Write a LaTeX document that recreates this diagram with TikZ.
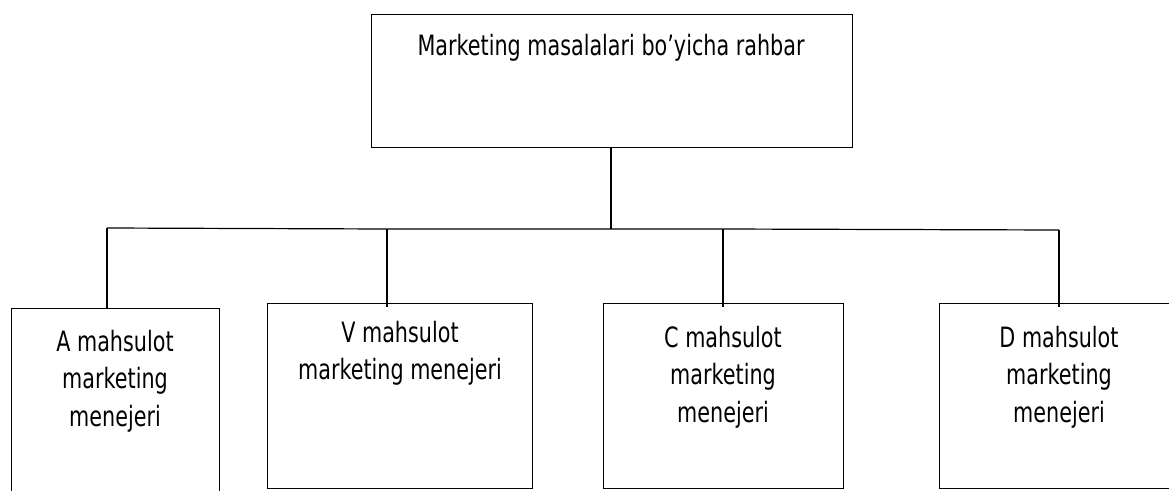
\documentclass[tikz,border=0pt]{standalone}
\usepackage{fontspec}
\setmainfont{DejaVu Sans}[FakeStretch=0.74]
\begin{document}
\begin{tikzpicture}[x=1pt,y=-1pt,
  box/.style={draw=black,line width=1.3pt,rectangle,inner sep=0pt,anchor=north west},
  lbl/.style={inner sep=0pt,anchor=north,align=center,font=\fontsize{28}{37.5}\selectfont},
  wire/.style={draw=black,line width=1.2pt}]
\clip (0,0) rectangle (1169,490);
\fill[white] (0,0) rectangle (1169,490);
% head box
\node[box,minimum width=481pt,minimum height=133pt] (head) at (371,14) {};
\node[lbl] (headlbl) at (611,34) {Marketing masalalari bo’yicha rahbar};
% product manager boxes
\node[box,minimum width=208pt,minimum height=200pt] (a) at (11,308) {};
\node[box,minimum width=265pt,minimum height=185pt] (v) at (267,303) {};
\node[box,minimum width=240pt,minimum height=185pt] (c) at (603,303) {};
\node[box,minimum width=260pt,minimum height=185pt] (d) at (939,303) {};
\node[lbl] (alb) at (115,330) {A mahsulot\\marketing\\menejeri};
\node[lbl] (vlb) at (400,321) {V mahsulot\\marketing menejeri};
\node[lbl] (clb) at (723,326) {C mahsulot\\marketing\\menejeri};
\node[lbl] (dlb) at (1059,326) {D mahsulot\\marketing\\menejeri};
% bus
\coordinate (hub) at (611,229);
\coordinate (ba) at (107,228);
\coordinate (bv) at (387,229);
\coordinate (bc) at (723,229);
\coordinate (bd) at (1059,230);
\draw[wire] (head.south -| hub) -- (hub);
\draw[wire] (ba) -- (bv) -- (hub) -- (bc) -- (bd);
\draw[wire] (ba) -- (ba |- a.north);
\draw[wire] (bv) -- ++(0,78);
\draw[wire] (bc) -- ++(0,78);
\draw[wire] (bd) -- ++(0,77);
\end{tikzpicture}
\end{document}
